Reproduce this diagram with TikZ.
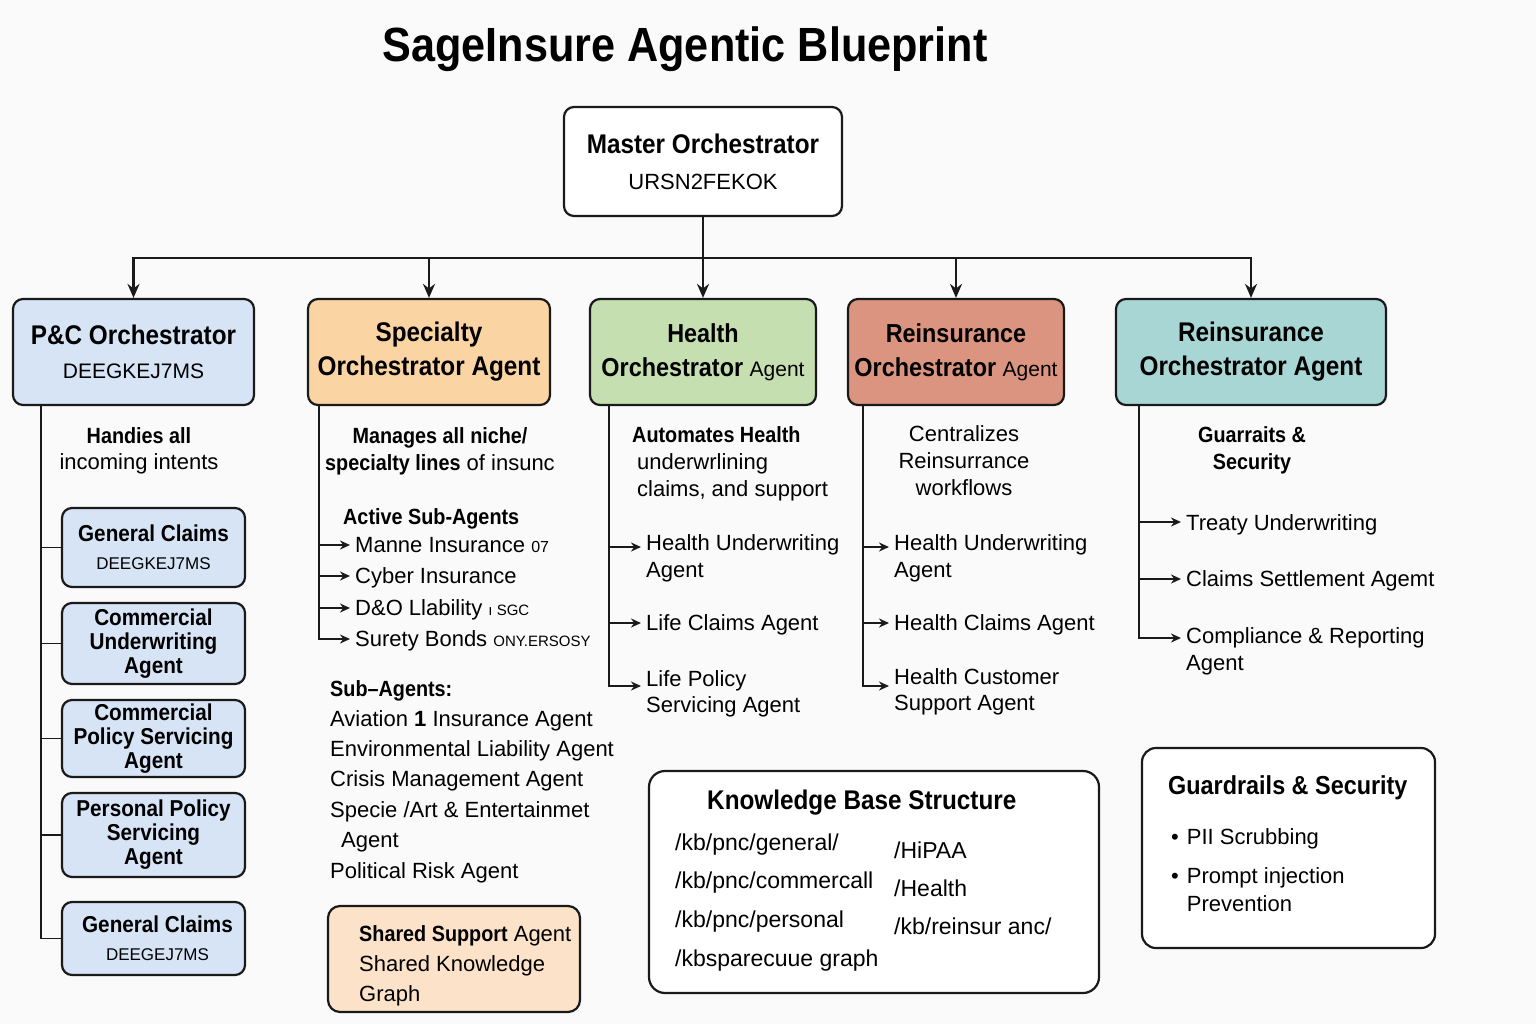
\documentclass[tikz,border=0pt]{standalone}
\usepackage{fontspec}
\setmainfont{Liberation Sans}
\newfontfamily\bfcfam{Liberation Sans}[FakeStretch=0.9]
\newcommand{\bx}{\bfcfam\bfseries}
\usetikzlibrary{arrows.meta}
\definecolor{bgc}{HTML}{FAFAFA}
\definecolor{ink}{HTML}{1A1A1A}
\definecolor{pcblue}{HTML}{D6E4F6}
\definecolor{specor}{HTML}{FBD4A4}
\definecolor{hgreen}{HTML}{C6DFB0}
\definecolor{csalmon}{HTML}{DA9480}
\definecolor{ctealc}{HTML}{A8D6D4}
\definecolor{cshared}{HTML}{FCE2C8}
\newcommand{\ml}[1]{\begin{tabular}[t]{@{}l@{}}#1\end{tabular}}
\newcommand{\mc}[1]{\begin{tabular}[t]{@{}c@{}}#1\end{tabular}}
\begin{document}
\begin{tikzpicture}[x=1pt, y=-1pt,
 box/.style={draw=ink, line width=2.2pt, rounded corners=10pt, inner sep=0pt, align=center},
 topbox/.style={box, minimum height=106pt, font=\bx\fontsize{27}{34}\selectfont},
 subbox/.style={box, fill=pcblue, minimum width=183pt, font=\bx\fontsize{23}{24}\selectfont},
 txt/.style={inner sep=0pt, anchor=base west, font=\fontsize{22}{27}\selectfont},
 btxt/.style={txt, font=\bx\fontsize{22}{27}\selectfont},
 link/.style={draw=ink, line width=2.4pt},
 linkarr/.style={link, -{Stealth[length=14pt,width=12pt]}},
 tree/.style={draw=ink, line width=1.9pt},
 arr/.style={tree, -{Stealth[length=10pt,width=9pt]}, shorten >=5pt}]
\fill[bgc] (0,0) rectangle (1536,1024);
\useasboundingbox (0,0) rectangle (1536,1024);

% title
\node[inner sep=0pt, anchor=base, font=\bx\fontsize{48}{50}\selectfont] (title) at (685,62) {SageInsure Agentic Blueprint};

% master
\node[box, fill=white, minimum width=278pt, minimum height=109pt, font=\bx\fontsize{27}{36}\selectfont] (master) at (703,161.5) {Master Orchestrator\\{\normalfont\fontsize{22}{36}\selectfont URSN2FEKOK}};

% top row
\node[topbox, fill=pcblue, minimum width=241pt] (pc) at (133.5,352) {P\&C Orchestrator\\{\normalfont\fontsize{21}{35}\selectfont DEEGKEJ7MS}};
\node[topbox, fill=specor, minimum width=242pt] (sp) at (429,352) {Specialty\\Orchestrator Agent};
\node[topbox, fill=hgreen, minimum width=226pt, font=\bx\fontsize{26}{34}\selectfont] (he) at (703,352) {Health\\Orchestrator {\normalfont\fontsize{21}{34}\selectfont Agent}};
\node[topbox, fill=csalmon, minimum width=216pt, font=\bx\fontsize{26}{34}\selectfont] (re) at (956,352) {Reinsurance\\Orchestrator {\normalfont\fontsize{21}{34}\selectfont Agent}};
\node[topbox, fill=ctealc, minimum width=270pt] (rt) at (1251,352) {Reinsurance\\Orchestrator Agent};

\foreach \n in {pc,sp,he,re,rt}
  \draw[linkarr] (master.south) -- ++(0,41) -| (\n.north);

% P&C column
\node[txt, anchor=base, font=\fontsize{22}{26}\selectfont] (pcd) at (139,443) {\mc{{\bx Handies all}\\incoming intents}};
\node[subbox, minimum height=79pt, font=\bx\fontsize{23}{28}\selectfont] (gc1) at (153.5,547.5) {General Claims\\{\normalfont\fontsize{17}{28}\selectfont DEEGKEJ7MS}};
\node[subbox, minimum height=81pt] (cu) at (153.5,643.5) {Commercial\\Underwriting\\Agent};
\node[subbox, minimum height=77pt] (cps) at (153.5,738.5) {Commercial\\Policy Servicing\\Agent};
\node[subbox, minimum height=84pt] (pps) at (153.5,835) {Personal Policy\\Servicing\\Agent};
\node[subbox, minimum height=73pt, font=\bx\fontsize{23}{28}\selectfont] (gc2) at (153.5,938.5) {\hspace{8pt}General Claims\\{\normalfont\fontsize{17}{28}\selectfont \hspace{8pt}DEEGEJ7MS}};
\coordinate (pct) at ([xshift=29pt]pc.south west);
\draw[tree] (pct) |- (gc2.west);
\foreach \n in {gc1,cu,cps,pps}
  \draw[tree] (pct |- \n.west) -- (\n.west);

% Specialty column
\node[txt, anchor=base] (spd) at (440,443) {\mc{{\bx Manages all niche/}\\{\bx specialty lines} of insunc}};
\node[btxt] (asa) at (343,524) {Active Sub-Agents};
\node[txt] (s1) at (355,552) {Manne Insurance {\fontsize{16}{16}\selectfont 07}};
\node[txt] (s2) at (355,583) {Cyber Insurance};
\node[txt] (s3) at (355,615) {D\&O Llability {\fontsize{15}{15}\selectfont ı SGC}};
\node[txt] (s4) at (355,646) {Surety Bonds {\fontsize{15}{15}\selectfont ONY.ERSOSY}};
\coordinate (spt) at ([xshift=12pt]sp.south west);
\coordinate (s1a) at ([yshift=7pt]s1.base west);
\coordinate (s2a) at ([yshift=7pt]s2.base west);
\coordinate (s3a) at ([yshift=7pt]s3.base west);
\coordinate (s4a) at ([yshift=7pt]s4.base west);
\draw[arr] (spt) |- (s4a);
\foreach \n in {s1a,s2a,s3a}
  \draw[arr] (spt |- \n) -- (\n);
\node[btxt] (sah) at (330,696) {Sub–Agents:};
\node[txt, font=\fontsize{22}{30.4}\selectfont] (sal) at (330,726) {\ml{Aviation {\bfseries 1} Insurance Agent\\Environmental Liability Agent\\Crisis Management Agent\\Specie /Art \& Entertainmet\\\hspace{11pt}Agent\\Political Risk Agent}};
\node[box, fill=cshared, rounded corners=12pt, minimum width=252pt, minimum height=106pt] (ssa) at (454,959) {};
\node[txt, font=\fontsize{22}{30}\selectfont] (ssat) at (359,941) {\ml{{\bx Shared Support} Agent\\Shared Knowledge\\Graph}};

% Health column
\node[txt] (hd) at (632,442) {\ml{{\bx Automates Health}\\\hspace{5pt}underwrlining\\\hspace{5pt}claims, and support}};
\node[txt] (h1) at (646,550) {\ml{Health Underwriting\\Agent}};
\node[txt] (h2) at (646,630) {Life Claims Agent};
\node[txt, font=\fontsize{22}{26}\selectfont] (h3) at (646,686) {\ml{Life Policy\\Servicing Agent}};
\coordinate (ht) at ([xshift=20pt]he.south west);
\coordinate (h1a) at ([yshift=3pt]h1.base west);
\coordinate (h2a) at ([yshift=7pt]h2.base west);
\coordinate (h3a) at ([yshift=0pt]h3.base west);
\draw[arr] (ht) |- (h3a);
\foreach \n in {h1a,h2a}
  \draw[arr] (ht |- \n) -- (\n);

% Reinsurance column
\node[txt, anchor=base] (rd) at (964,441) {\mc{Centralizes\\Reinsurrance\\workflows}};
\node[txt] (r1) at (894,550) {\ml{Health Underwriting\\Agent}};
\node[txt] (r2) at (894,630) {Health Claims Agent};
\node[txt, font=\fontsize{22}{26}\selectfont] (r3) at (894,684) {\ml{Health Customer\\Support Agent}};
\coordinate (rtr) at ([xshift=16pt]re.south west);
\coordinate (r1a) at ([yshift=3pt]r1.base west);
\coordinate (r2a) at ([yshift=7pt]r2.base west);
\coordinate (r3a) at ([yshift=-2pt]r3.base west);
\draw[arr] (rtr) |- (r3a);
\foreach \n in {r1a,r2a}
  \draw[arr] (rtr |- \n) -- (\n);

% Teal column
\node[btxt, anchor=base] (td) at (1252,442) {\mc{Guarraits \&\\Security}};
\node[txt] (t1) at (1186,530) {Treaty Underwriting};
\node[txt] (t2) at (1186,586) {Claims Settlement Agemt};
\node[txt] (t3) at (1186,643) {\ml{Compliance \& Reporting\\Agent}};
\coordinate (tt) at ([xshift=24pt]rt.south west);
\coordinate (t1a) at ([yshift=8pt]t1.base west);
\coordinate (t2a) at ([yshift=7pt]t2.base west);
\coordinate (t3a) at ([yshift=5pt]t3.base west);
\draw[arr] (tt) |- (t3a);
\foreach \n in {t1a,t2a}
  \draw[arr] (tt |- \n) -- (\n);

% Knowledge base
\node[box, fill=white, rounded corners=16pt, minimum width=450pt, minimum height=222pt] (kb) at (874,882) {};
\node[btxt, font=\bx\fontsize{27}{30}\selectfont] (kbt) at (707,809) {Knowledge Base Structure};
\node[txt, font=\fontsize{23}{38.7}\selectfont] (kbl) at (675,850) {\ml{/kb/pnc/general/\\/kb/pnc/commercall\\/kb/pnc/personal\\/kbsparecuue graph}};
\node[txt, font=\fontsize{23}{38}\selectfont] (kbr) at (894,858) {\ml{/HiPAA\\/Health\\/kb/reinsur anc/}};

% Guardrails
\node[box, fill=white, rounded corners=14pt, minimum width=293pt, minimum height=200pt] (gr) at (1288.5,848) {};
\node[btxt, font=\bx\fontsize{26}{30}\selectfont] (grt) at (1168,794) {Guardrails \& Security};
\node[txt] (g1) at (1171,844) {•\hspace{8pt}PII Scrubbing};
\node[txt, font=\fontsize{22}{28}\selectfont] (g2) at (1171,883) {\begin{tabular}[t]{@{}l@{\hspace{8pt}}l@{}}•&Prompt injection\\&Prevention\end{tabular}};
\end{tikzpicture}
\end{document}
